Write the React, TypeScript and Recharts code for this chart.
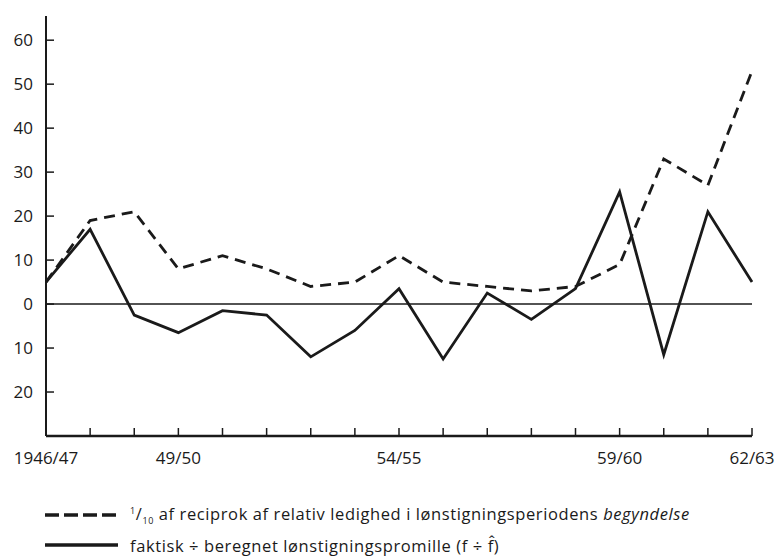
import { Line, LineChart, ReferenceLine, XAxis, YAxis } from "recharts";

const periods = [
  "1946/47", "47/48", "48/49", "49/50", "50/51", "51/52", "52/53", "53/54", "54/55",
  "55/56", "56/57", "57/58", "58/59", "59/60", "60/61", "61/62", "62/63",
];
const labelledPeriods = ["1946/47", "49/50", "54/55", "59/60", "62/63"];
// 1/10 of reciprocal relative unemployment at start of wage period
const reciprocal = [5, 19, 21, 8, 11, 8, 4, 5, 11, 5, 4, 3, 4, 9, 33, 27, 53];
// actual minus computed wage increase (per mille)
const deviation = [5, 17, -2.5, -6.5, -1.5, -2.5, -12, -6, 3.5, -12.5, 2.5, -3.5, 3.5, 25.5, -11.5, 21, 5];
const yTicks = [60, 50, 40, 30, 20, 10, 0, -10, -20];

const INK = "#1a1a1a";
const FONT = "'Open Sans', sans-serif";

const data = periods.map((p, i) => ({ period: p, reciprocal: reciprocal[i], deviation: deviation[i] }));

function XTick(props: any) {
  const { x, y, payload } = props;
  const show = labelledPeriods.includes(payload.value);
  return (
    <g>
      <line x1={x} x2={x} y1={y} y2={y - 8} stroke={INK} strokeWidth={1.5} />
      {show && (
        <text x={x} y={y + 28} textAnchor="middle" fontFamily={FONT} fontSize={17} fill={INK}>
          {payload.value}
        </text>
      )}
    </g>
  );
}

function YTick(props: any) {
  const { x, y, payload } = props;
  return (
    <g>
      <line x1={x} x2={x + 8} y1={y} y2={y} stroke={INK} strokeWidth={1.5} />
      <text x={x - 13} y={y + 6} textAnchor="end" fontFamily={FONT} fontSize={17} fill={INK}>
        {Math.abs(payload.value)}
      </text>
    </g>
  );
}

function LegendRow({ dashed, children }: { dashed?: boolean; children: any }) {
  return (
    <div style={{ display: "flex", alignItems: "center", height: 30 }}>
      <svg width={85} height={10} style={{ flex: "none" }}>
        <line x1={0} x2={73} y1={5} y2={5} stroke={INK} strokeWidth={3.5} strokeDasharray={dashed ? "14 5" : undefined} />
      </svg>
      <span style={{ fontFamily: FONT, fontSize: 16.5, letterSpacing: 0.6, color: INK, whiteSpace: "nowrap" }}>
        {children}
      </span>
    </div>
  );
}

export default function App() {
  return (
    <div style={{ position: "absolute", left: 0, top: 0, width: 774, height: 559, background: "#fff" }}>
      <LineChart width={774} height={559} data={data} margin={{ top: 16, right: 22, left: 0, bottom: 83 }}>
        <XAxis
          dataKey="period"
          interval={0}
          tickSize={0}
          tickMargin={0}
          tickLine={false}
          height={40}
          axisLine={{ stroke: INK, strokeWidth: 2.5 }}
          tick={<XTick />}
          padding={{ left: 0, right: 0 }}
        />
        <YAxis
          type="number"
          domain={[-30, 65.5]}
          ticks={yTicks}
          interval={0}
          width={46}
          tickSize={0}
          tickMargin={0}
          tickLine={false}
          axisLine={{ stroke: INK, strokeWidth: 2 }}
          tick={<YTick />}
          allowDataOverflow
        />
        <ReferenceLine y={0} stroke={INK} strokeWidth={1.5} />
        <Line
          dataKey="reciprocal"
          type="linear"
          stroke={INK}
          strokeWidth={2.8}
          strokeDasharray="11 7"
          dot={false}
          isAnimationActive={false}
        />
        <Line dataKey="deviation" type="linear" stroke={INK} strokeWidth={2.8} dot={false} isAnimationActive={false} />
      </LineChart>
      <div style={{ position: "absolute", left: 45, top: 500 }}>
        <LegendRow dashed>
          <sup style={{ fontSize: 9 }}>1</sup>/<sub style={{ fontSize: 9 }}>10</sub> af reciprok af relativ ledighed i lønstigningsperiodens <i>begyndelse</i>
        </LegendRow>
        <LegendRow>faktisk ÷ beregnet lønstigningspromille (f ÷ f̂)</LegendRow>
      </div>
    </div>
  );
}
